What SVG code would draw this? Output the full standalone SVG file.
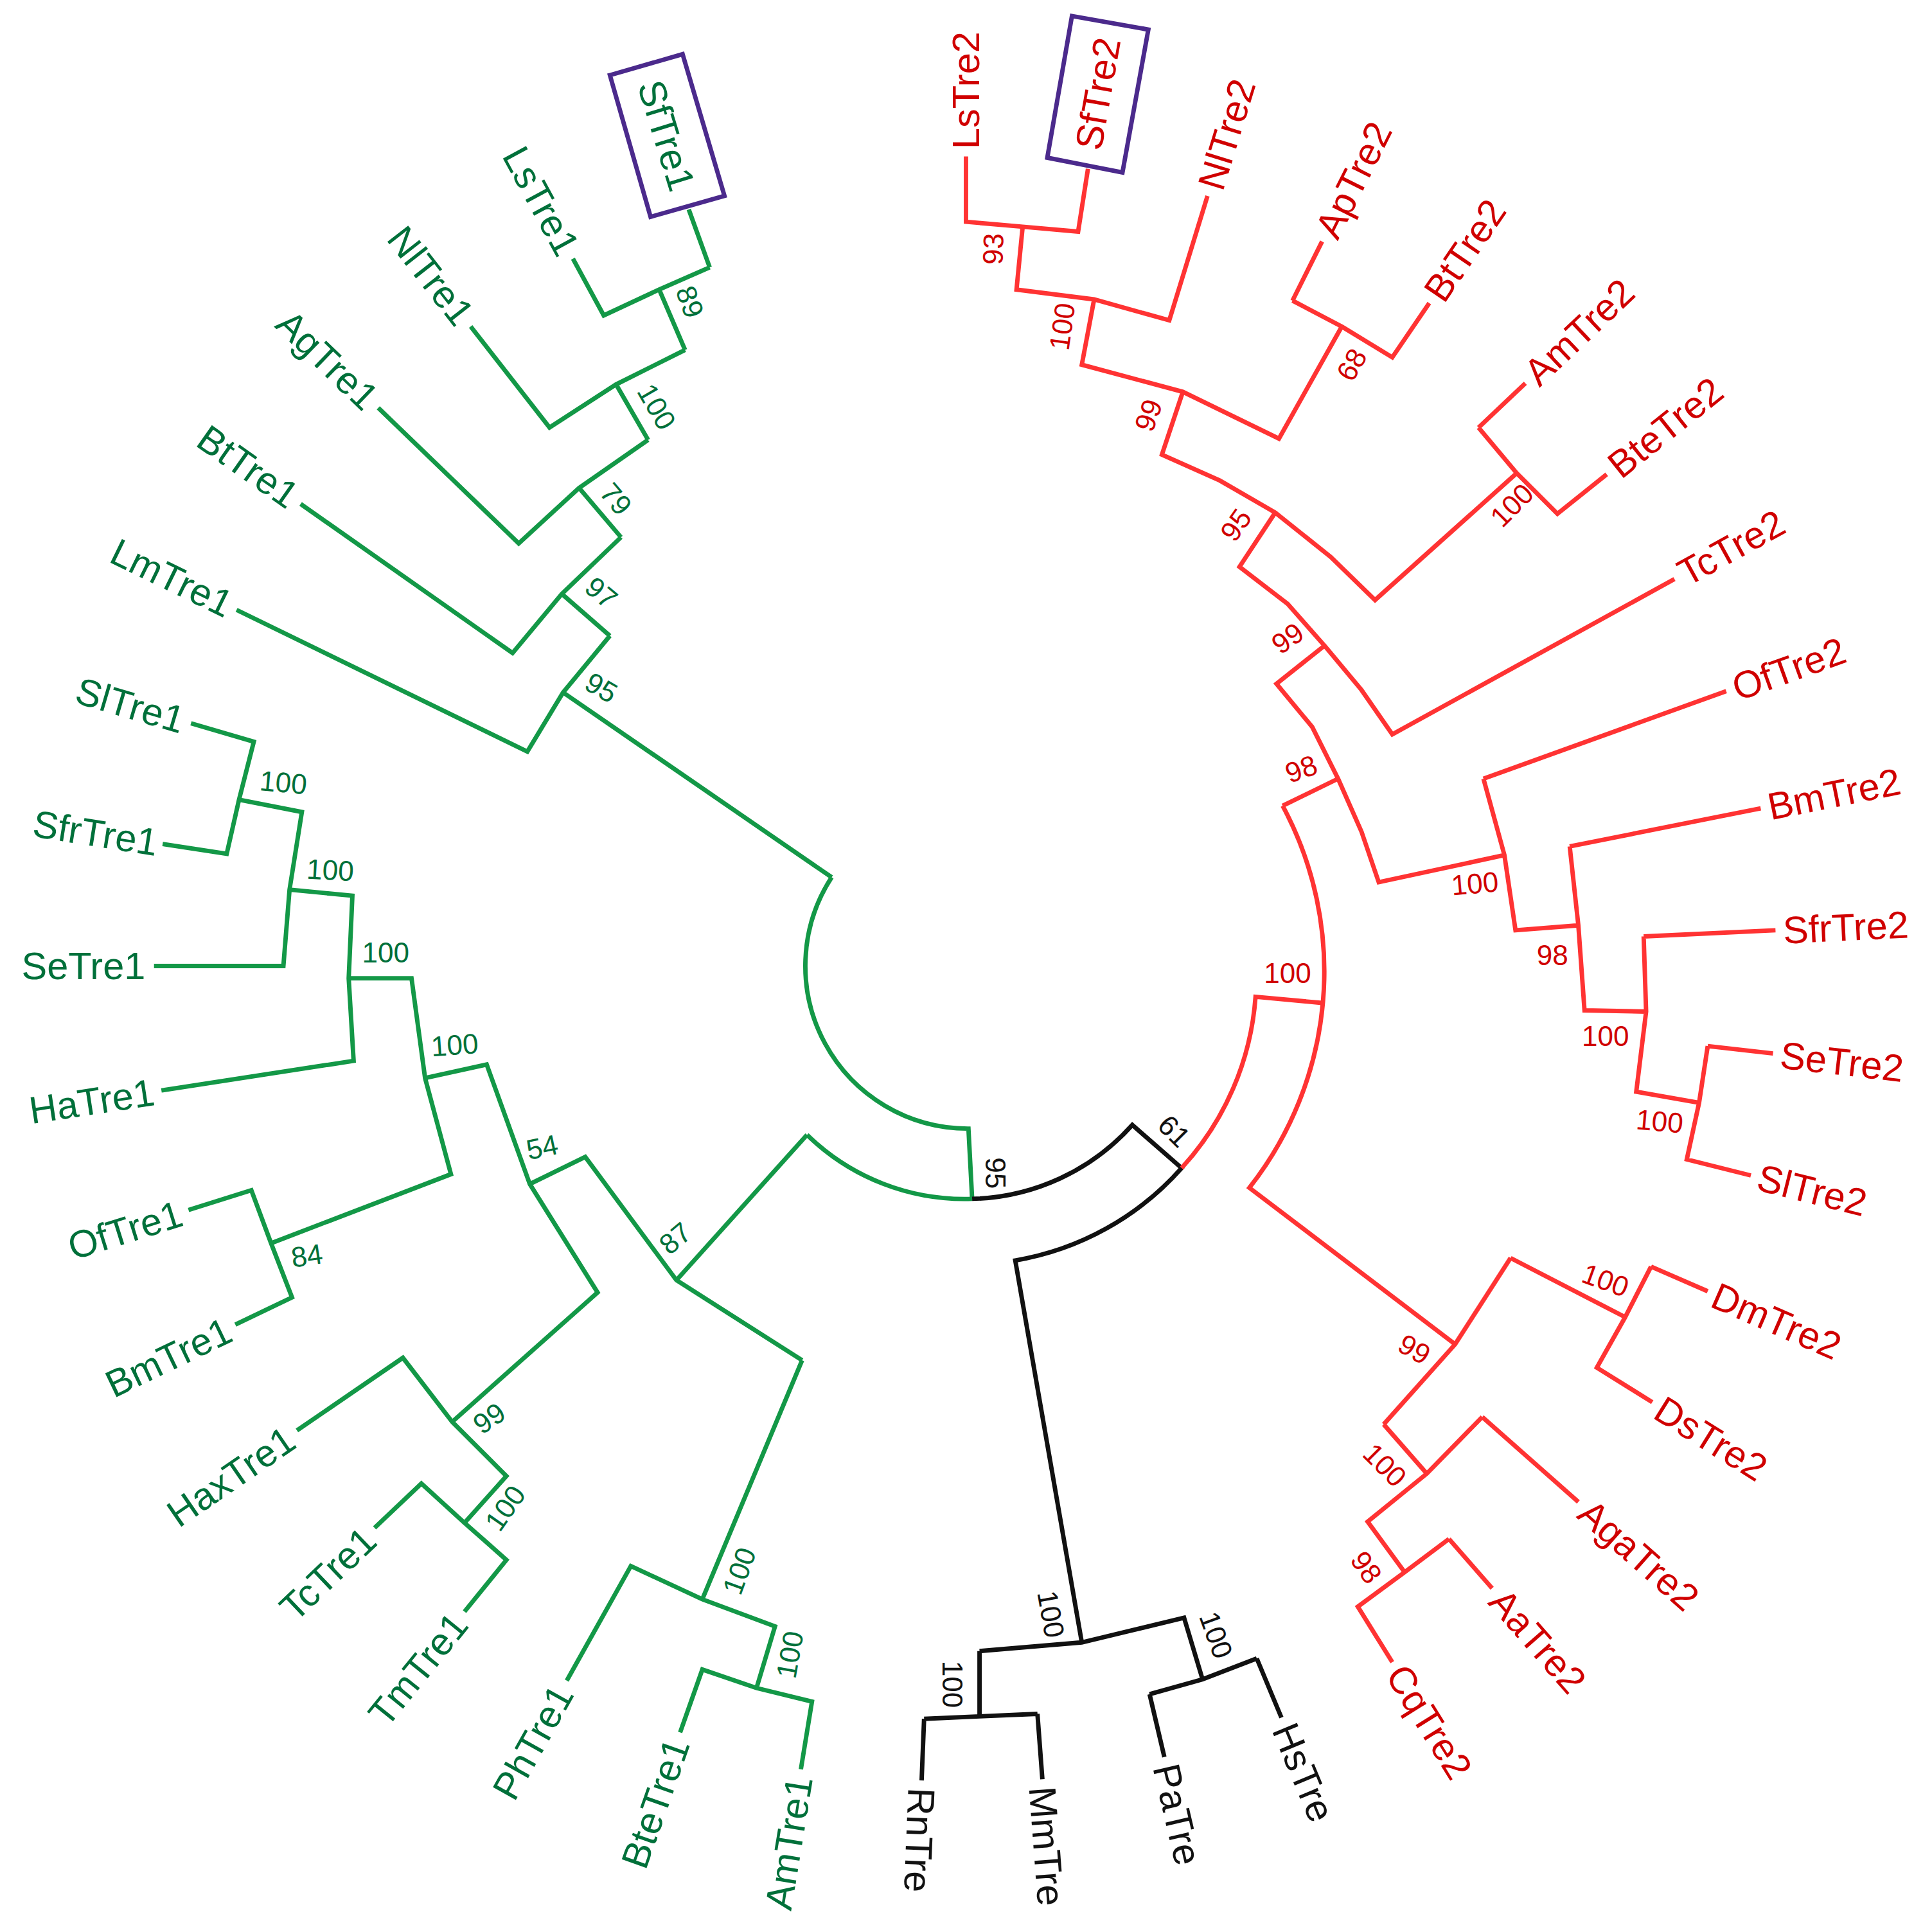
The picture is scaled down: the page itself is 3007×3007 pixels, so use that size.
<svg xmlns="http://www.w3.org/2000/svg" width="3007" height="3007" viewBox="0 0 3007 3007">
<style>
.g{fill:none;stroke:#139847;stroke-width:3.6;stroke-linejoin:miter}
.r{fill:none;stroke:#ff3333;stroke-width:3.6}
.k{fill:none;stroke:#111;stroke-width:3.6}
text{font-family:"Liberation Sans",Arial,sans-serif}
.lg{fill:#00703a;font-size:31px}
.lr{fill:#d00000;font-size:31px}
.lk{fill:#111;font-size:31px}
.s{text-anchor:start}
.e{text-anchor:end}
.m{text-anchor:middle}
.bg{fill:#00703a;font-size:23px;text-anchor:middle}
.br{fill:#d00000;font-size:23px;text-anchor:middle}
.bk{fill:#111;font-size:23px;text-anchor:middle}
.box{fill:none;stroke:#4b2a8c;stroke-width:3.6}
</style>
<rect width="3007" height="3007" fill="#fff"/>
<g transform="scale(1.9177)">
<g id="connectors">
<path class="g" d="M559,170 L576,217 M465,210 L490,256 L535,235 L576,217 M535,235 L556,284 M382,265 L446,347 L500,312 L556,284 M500,312 L526,357 M307,331 L421,441 L470,396 L526,357 M470,396 L504,436 M244,409 L416,530 L456,482 L504,436 M456,482 L495,516 M192,495 L428,610 L457,562 L495,516 M457,562 L675,712"/>
<path class="g" d="M675,712 A132,132 0 0 0 786,916 L789,973"/>
<path class="g" d="M655,921 A183,183 0 0 0 789,973"/>
<path class="g" d="M155,587 L206,602 L194,649 L184,693 L132,685 M194,649 L245,659 L235,722 L230,784 L125,784 M235,722 L286,727 L283,794 L287,861 L131,885 M283,794 L334,794 L345,875 L366,953 L220,1009 M153,982 L204,966 L220,1009 L237,1053 L191,1075 M345,875 L395,864 L430,961 L485,1049 L367,1154 M430,961 L475,939 L549,1039 L651,1104 M549,1039 L655,921 M241,1161 L327,1102 L367,1154 L411,1198 L377,1236 M304,1240 L342,1204 L377,1236 L411,1266 L377,1308 M651,1104 L570,1298 M460,1364 L512,1271 L570,1298 L629,1320 L614,1370 M552,1406 L570,1355 L614,1370 L659,1381 L650,1436"/>
<path class="k" d="M789,973 A180,180 0 0 0 919,913 L959,948 A232,232 0 0 1 824,1023 L878,1333 M795,1340 L878,1333 L961,1313 L976,1363 M933,1375 L976,1363 L1020,1346 M933,1375 L945,1426 M1020,1346 L1040,1394 M795,1340 L795,1393 M750,1395 L795,1393 L842,1391 M750,1395 L748,1445 M842,1391 L846,1444"/>
<path class="r" d="M959,948 A230,230 0 0 0 1019,809 L1073,814"/>
<path class="r" d="M1041,654 A284,284 0 0 1 1014,964 L1181,1091"/>
<path class="r" d="M784,127 L784,180 L830,184 L875,188 L883,137 M830,184 L825,235 L888,243 L949,260 L980,159 M888,243 L878,296 L960,318 L1038,356 L1089,265 M1049,244 L1089,265 L1130,290 L1160,246 M1049,244 L1073,196 M960,318 L943,369 L990,390 L1035,416 L1080,452 L1116,487 L1231,384 M1200,347 L1231,384 L1264,417 L1304,385 M1200,347 L1238,311 M1035,416 L1006,460 L1045,490 L1075,524 L1105,560 L1130,596 L1359,470 M1075,524 L1036,555 L1065,590 L1086,632 L1105,675 L1119,716 L1221,694 M1086,632 L1041,654 M1204,632 L1401,561 M1204,632 L1221,694 L1230,755 L1281,751 M1274,687 L1429,656 M1274,687 L1281,751 L1286,820 L1336,821 M1334,760 L1441,755 M1334,760 L1336,821 L1328,886 L1379,895 M1386,849 L1439,855 M1386,849 L1379,895 L1369,941 L1421,954"/>
<path class="r" d="M1226,1021 L1181,1091 L1123,1156 M1226,1021 L1319,1069 M1340,1028 L1386,1048 M1340,1028 L1319,1069 L1296,1110 L1341,1138 M1123,1156 L1158,1196 M1203,1150 L1281,1219 M1203,1150 L1158,1196 L1110,1235 L1140,1276 M1176,1249 L1211,1289 M1176,1249 L1140,1276 L1102,1304 L1130,1349"/>
</g>
<g id="SfTre1"><polygon class="box" points="495,61 554,44 588,159 528,176"/><text class="lg m" transform="translate(541,110) rotate(73)" dy=".35em">SfTre1</text></g>
<g id="LsTre1"><text class="lg e" transform="translate(462,205) rotate(61.5)" dy=".35em">LsTre1</text></g>
<g id="NlTre1"><text class="lg e" transform="translate(378,260) rotate(52)" dy=".35em">NlTre1</text></g>
<g id="AgTre1"><text class="lg e" transform="translate(302,327) rotate(44)" dy=".35em">AgTre1</text></g>
<g id="BtTre1"><text class="lg e" transform="translate(239,405) rotate(35.1)" dy=".35em">BtTre1</text></g>
<g id="LmTre1"><text class="lg e" transform="translate(187,492) rotate(26)" dy=".35em">LmTre1</text></g>
<g id="SlTre1"><text class="lg e" transform="translate(149,585) rotate(16.4)" dy=".35em">SlTre1</text></g>
<g id="SfrTre1"><text class="lg e" transform="translate(128,684) rotate(9)" dy=".35em">SfrTre1</text></g>
<g id="SeTre1"><text class="lg e" transform="translate(118,784)" dy=".35em">SeTre1</text></g>
<g id="HaTre1"><text class="lg e" transform="translate(125,886) rotate(-8.7)" dy=".35em">HaTre1</text></g>
<g id="OfTre1"><text class="lg e" transform="translate(147,984) rotate(-17.4)" dy=".35em">OfTre1</text></g>
<g id="BmTre1"><text class="lg e" transform="translate(186,1078) rotate(-25.6)" dy=".35em">BmTre1</text></g>
<g id="HaxTre1"><text class="lg e" transform="translate(236,1165) rotate(-34.5)" dy=".35em">HaxTre1</text></g>
<g id="TcTre1"><text class="lg e" transform="translate(300,1245) rotate(-43.5)" dy=".35em">TcTre1</text></g>
<g id="TmTre1"><text class="lg e" transform="translate(373,1313) rotate(-51)" dy=".35em">TmTre1</text></g>
<g id="PhTre1"><text class="lg e" transform="translate(457,1370) rotate(-60.8)" dy=".35em">PhTre1</text></g>
<g id="BteTre1"><text class="lg e" transform="translate(550,1412) rotate(-70.6)" dy=".35em">BteTre1</text></g>
<g id="AmTre1"><text class="lg e" transform="translate(649,1442) rotate(-80.7)" dy=".35em">AmTre1</text></g>
<g id="RnTre"><text class="lk s" transform="translate(748,1451) rotate(92.3)" dy=".35em">RnTre</text></g>
<g id="MmTre"><text class="lk s" transform="translate(846,1450) rotate(85.7)" dy=".35em">MmTre</text></g>
<g id="PaTre"><text class="lk s" transform="translate(946,1432) rotate(76.8)" dy=".35em">PaTre</text></g>
<g id="HsTre"><text class="lk s" transform="translate(1042,1400) rotate(67.4)" dy=".35em">HsTre</text></g>
<g id="CqTre2"><text class="lr s" transform="translate(1133,1354) rotate(58.1)" dy=".35em">CqTre2</text></g>
<g id="AaTre2"><text class="lr s" transform="translate(1215,1294) rotate(48.8)" dy=".35em">AaTre2</text></g>
<g id="AgaTre2"><text class="lr s" transform="translate(1286,1223) rotate(41.5)" dy=".35em">AgaTre2</text></g>
<g id="DsTre2"><text class="lr s" transform="translate(1346,1141) rotate(31.9)" dy=".35em">DsTre2</text></g>
<g id="DmTre2"><text class="lr s" transform="translate(1391,1050) rotate(23.5)" dy=".35em">DmTre2</text></g>
<g id="SlTre2"><text class="lr s" transform="translate(1427,955) rotate(14)" dy=".35em">SlTre2</text></g>
<g id="SeTre2"><text class="lr s" transform="translate(1445,856) rotate(6.5)" dy=".35em">SeTre2</text></g>
<g id="SfrTre2"><text class="lr s" transform="translate(1447,755) rotate(-2.7)" dy=".35em">SfrTre2</text></g>
<g id="BmTre2"><text class="lr s" transform="translate(1435,655) rotate(-11.3)" dy=".35em">BmTre2</text></g>
<g id="OfTre2"><text class="lr s" transform="translate(1407,559) rotate(-19.8)" dy=".35em">OfTre2</text></g>
<g id="TcTre2"><text class="lr s" transform="translate(1364,467) rotate(-28.8)" dy=".35em">TcTre2</text></g>
<g id="BteTre2"><text class="lr s" transform="translate(1309,381) rotate(-38.7)" dy=".35em">BteTre2</text></g>
<g id="AmTre2"><text class="lr s" transform="translate(1242,307) rotate(-43.4)" dy=".35em">AmTre2</text></g>
<g id="BtTre2"><text class="lr s" transform="translate(1163,241) rotate(-55.7)" dy=".35em">BtTre2</text></g>
<g id="ApTre2"><text class="lr s" transform="translate(1076,191) rotate(-63.4)" dy=".35em">ApTre2</text></g>
<g id="NlTre2"><text class="lr s" transform="translate(982,153) rotate(-72.9)" dy=".35em">NlTre2</text></g>
<g id="SfTre2"><polygon class="box" points="850,128 870,13 932,24 911,140"/><text class="lr m" transform="translate(891,76) rotate(-80)" dy=".35em">SfTre2</text></g>
<g id="LsTre2"><text class="lr s" transform="translate(784,121) rotate(-90)" dy=".35em">LsTre2</text></g>
<g id="bootstrap">
<text class="bg" transform="translate(560,245) rotate(70)" dy=".35em">89</text>
<text class="bg" transform="translate(533,330) rotate(60)" dy=".35em">100</text>
<text class="bg" transform="translate(500,405) rotate(50)" dy=".35em">79</text>
<text class="bg" transform="translate(488,481) rotate(40)" dy=".35em">97</text>
<text class="bg" transform="translate(488,558) rotate(30)" dy=".35em">95</text>
<text class="bg" transform="translate(230,635) rotate(5)" dy=".35em">100</text>
<text class="bg" transform="translate(268,706) rotate(3)" dy=".35em">100</text>
<text class="bg" transform="translate(313,773)" dy=".35em">100</text>
<text class="bg" transform="translate(369,848) rotate(-4)" dy=".35em">100</text>
<text class="bg" transform="translate(249,1019) rotate(-8)" dy=".35em">84</text>
<text class="bg" transform="translate(440,931) rotate(-12)" dy=".35em">54</text>
<text class="bg" transform="translate(548,1005) rotate(-40)" dy=".35em">87</text>
<text class="bg" transform="translate(397,1151) rotate(-35)" dy=".35em">99</text>
<text class="bg" transform="translate(410,1224) rotate(-55)" dy=".35em">100</text>
<text class="bg" transform="translate(600,1275) rotate(-70)" dy=".35em">100</text>
<text class="bg" transform="translate(641,1343) rotate(-80)" dy=".35em">100</text>
<text class="bk" transform="translate(808,952) rotate(90)" dy=".35em">95</text>
<text class="bk" transform="translate(953,918) rotate(45)" dy=".35em">61</text>
<text class="bk" transform="translate(853,1310) rotate(80)" dy=".35em">100</text>
<text class="bk" transform="translate(987,1327) rotate(70)" dy=".35em">100</text>
<text class="bk" transform="translate(773,1367) rotate(90)" dy=".35em">100</text>
<text class="br" transform="translate(806,202) rotate(-88)" dy=".35em">93</text>
<text class="br" transform="translate(862,265) rotate(-82)" dy=".35em">100</text>
<text class="br" transform="translate(932,337) rotate(-70)" dy=".35em">99</text>
<text class="br" transform="translate(1097,296) rotate(-60)" dy=".35em">68</text>
<text class="br" transform="translate(1003,426) rotate(-55)" dy=".35em">95</text>
<text class="br" transform="translate(1227,410) rotate(-45)" dy=".35em">100</text>
<text class="br" transform="translate(1045,518) rotate(-35)" dy=".35em">99</text>
<text class="br" transform="translate(1056,624) rotate(-20)" dy=".35em">98</text>
<text class="br" transform="translate(1197,717) rotate(-5)" dy=".35em">100</text>
<text class="br" transform="translate(1260,775)" dy=".35em">98</text>
<text class="br" transform="translate(1303,841)" dy=".35em">100</text>
<text class="br" transform="translate(1347,910) rotate(5)" dy=".35em">100</text>
<text class="br" transform="translate(1045,790)" dy=".35em">100</text>
<text class="br" transform="translate(1148,1095) rotate(30)" dy=".35em">99</text>
<text class="br" transform="translate(1303,1039) rotate(20)" dy=".35em">100</text>
<text class="br" transform="translate(1124,1189) rotate(45)" dy=".35em">100</text>
<text class="br" transform="translate(1109,1272) rotate(55)" dy=".35em">98</text>
</g>
</g>
</svg>
